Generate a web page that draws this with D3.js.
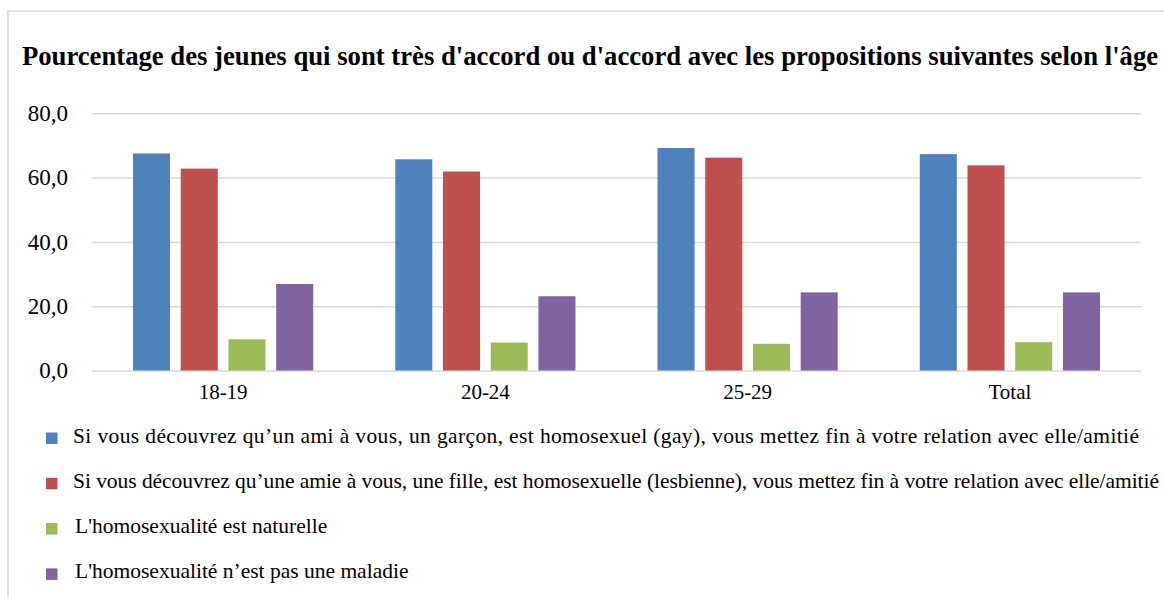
<!DOCTYPE html>
<html>
<head>
<meta charset="utf-8">
<script src="https://cdn.jsdelivr.net/npm/d3@7"></script>
<style>
  body { margin: 0; background: #fff; }
  text { font-family: "Liberation Serif", "Times New Roman", serif; fill: #000; }
</style>
</head>
<body>
<div id="chart"></div>
<script>
// Chart data
var categories = ["18-19", "20-24", "25-29", "Total"];
var seriesNames = [
  "Si vous découvrez qu’un ami à vous, un garçon, est homosexuel (gay), vous mettez fin à votre relation avec elle/amitié",
  "Si vous découvrez qu’une amie à vous, une fille, est homosexuelle (lesbienne), vous mettez fin à votre relation avec elle/amitié",
  "L'homosexualité est naturelle",
  "L'homosexualité n’est pas une maladie"
];
var amiValues = [67.5, 65.7, 69.2, 67.3];
var amieValues = [62.8, 61.9, 66.2, 63.8];
var naturelleValues = [9.7, 8.7, 8.3, 8.8];
var maladieValues = [26.9, 23.1, 24.3, 24.3];
var yTicks = [0, 20, 40, 60, 80];
var colors = ["#4f81bd", "#c0504d", "#9bbb59", "#8064a2"];

var seriesValues = [amiValues, amieValues, naturelleValues, maladieValues];

var width = 1164, height = 597;
var plotLeft = 92, plotRight = 1141, plotTop = 113.3, plotBottom = 370.5;

var svg = d3.select("#chart").append("svg")
  .attr("width", width)
  .attr("height", height);

// light frame round the chart area
svg.append("path")
  .attr("d", "M8," + height + "V11H" + width)
  .attr("fill", "none")
  .attr("stroke", "#d9d9d9")
  .attr("stroke-width", 1.5);

svg.append("text")
  .attr("x", 590)
  .attr("y", 65)
  .attr("text-anchor", "middle")
  .style("font-size", "26.7px")
  .style("font-weight", "bold")
  .text("Pourcentage des jeunes qui sont très d'accord ou d'accord avec les propositions suivantes selon l'âge");

var x0 = d3.scaleBand().domain(categories).range([plotLeft, plotRight]);
var x1 = d3.scaleBand().domain(d3.range(seriesNames.length))
  .range([0, x0.bandwidth()])
  .paddingInner(0.224)
  .paddingOuter(0.86);
var y = d3.scaleLinear().domain([0, 80]).range([plotBottom, plotTop]);

// y axis with gridlines
var yAxis = svg.append("g")
  .attr("transform", "translate(" + plotLeft + ",0)")
  .call(d3.axisLeft(y)
    .tickValues(yTicks)
    .tickSize(-(plotRight - plotLeft))
    .tickPadding(24)
    .tickFormat(function(d) { return d.toFixed(1).replace(".", ","); }));
yAxis.select(".domain").remove();
yAxis.selectAll("line").attr("stroke", "#d9d9d9").attr("stroke-width", 1.5);
yAxis.selectAll("text")
  .style("font-family", "'Liberation Serif', serif")
  .style("font-size", "23px")
  .attr("fill", "#000");

// x axis labels
var xAxis = svg.append("g")
  .attr("transform", "translate(0," + plotBottom + ")")
  .call(d3.axisBottom(x0).tickSize(0).tickPadding(14));
xAxis.select(".domain").remove();
xAxis.selectAll("text")
  .style("font-family", "'Liberation Serif', serif")
  .style("font-size", "21px")
  .attr("fill", "#000");

// bars
var groups = svg.selectAll("g.group")
  .data(categories)
  .enter().append("g")
  .attr("class", "group")
  .attr("transform", function(d) { return "translate(" + x0(d) + ",0)"; });

groups.selectAll("rect")
  .data(function(d, i) {
    return seriesValues.map(function(vals, s) { return {s: s, v: vals[i]}; });
  })
  .enter().append("rect")
  .attr("x", function(d) { return x1(d.s); })
  .attr("y", function(d) { return y(d.v); })
  .attr("width", x1.bandwidth())
  .attr("height", function(d) { return plotBottom - y(d.v); })
  .attr("fill", function(d) { return colors[d.s]; });

// legend
var legend = svg.selectAll("g.legend")
  .data(seriesNames)
  .enter().append("g")
  .attr("class", "legend")
  .attr("transform", function(d, i) { return "translate(46," + (432.5 + i * 45.3) + ")"; });

legend.append("rect")
  .attr("width", 11.5)
  .attr("height", 11.5)
  .attr("fill", function(d, i) { return colors[i]; });

// the two long entries are stretched to the widths they have in the picture
var legendWidths = [1066, 1086];
legend.append("text")
  .attr("x", function(d, i) { return i < 2 ? 27 : 29; })
  .attr("y", 10)
  .style("font-size", "21.5px")
  .each(function(d, i) {
    if (i < 2) {
      d3.select(this).attr("textLength", legendWidths[i]).attr("lengthAdjust", "spacing");
    }
  })
  .text(function(d) { return d; });
</script>
</body>
</html>
